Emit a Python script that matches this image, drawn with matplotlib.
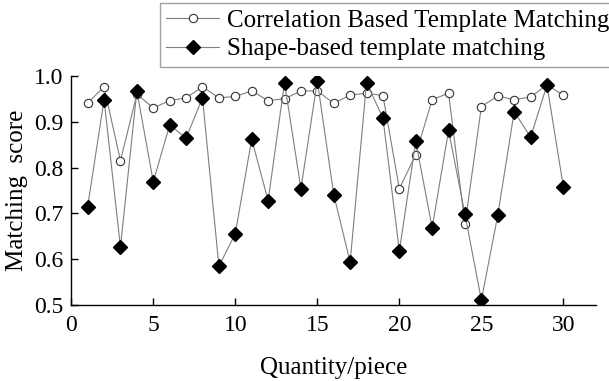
import matplotlib.pyplot as plt

plt.rcParams['font.family'] = ['Liberation Serif', 'DejaVu Serif']

# Datos
quantity = list(range(1, 31))
correlation = [0.941, 0.976, 0.815, 0.960, 0.930, 0.946, 0.952, 0.976, 0.952, 0.955,
               0.967, 0.946, 0.950, 0.967, 0.967, 0.940, 0.958, 0.962, 0.957, 0.754,
               0.828, 0.948, 0.962, 0.676, 0.933, 0.956, 0.948, 0.954, 0.980, 0.958]
shape_based = [0.715, 0.948, 0.627, 0.967, 0.769, 0.893, 0.864, 0.952, 0.585, 0.656,
               0.862, 0.728, 0.985, 0.754, 0.989, 0.741, 0.594, 0.985, 0.908, 0.618,
               0.857, 0.669, 0.881, 0.698, 0.511, 0.696, 0.922, 0.866, 0.980, 0.757]
x_ticks = [0, 5, 10, 15, 20, 25, 30]
y_ticks = [0.5, 0.6, 0.7, 0.8, 0.9, 1.0]

fig = plt.figure(figsize=(6.09, 3.81), dpi=100)
ax = fig.add_axes([0.117, 0.199, 0.862, 0.602])

ax.plot(quantity, correlation, color='#7f7f7f', lw=0.8, marker='o', ms=6,
        mfc='white', mec='#333333', mew=0.8, label='Correlation Based Template Matching')
ax.plot(quantity, shape_based, color='#7f7f7f', lw=0.8, marker='D', ms=7,
        mfc='black', mec='black', label='Shape-based template matching')

ax.set_xlim(0, 32)
ax.set_ylim(0.5, 1.0)
ax.set_xticks(x_ticks)
ax.set_yticks(y_ticks)
ax.set_yticklabels([f'{v:.1f}' for v in y_ticks])
ax.tick_params(direction='in', length=5, width=1, labelsize=17)
ax.tick_params(axis='y', pad=6)
ax.tick_params(axis='x', pad=7)
for lado in ['top', 'right']:
    ax.spines[lado].set_visible(False)
for lado in ['left', 'bottom']:
    ax.spines[lado].set_linewidth(1)

ax.set_xlabel('Quantity/piece', fontsize=18, labelpad=15)
ax.set_ylabel('Matching  score', fontsize=18, labelpad=4)

leg = fig.legend(loc='upper left', bbox_to_anchor=(160 / 609, 1 - 3 / 381),
                 fontsize=18, frameon=True, fancybox=False, edgecolor='#888888',
                 handlelength=2.1, handletextpad=0.32, labelspacing=0.25,
                 borderpad=0.25, borderaxespad=0)
leg.get_frame().set_linewidth(1)

fig.savefig('out.png', dpi=100)
